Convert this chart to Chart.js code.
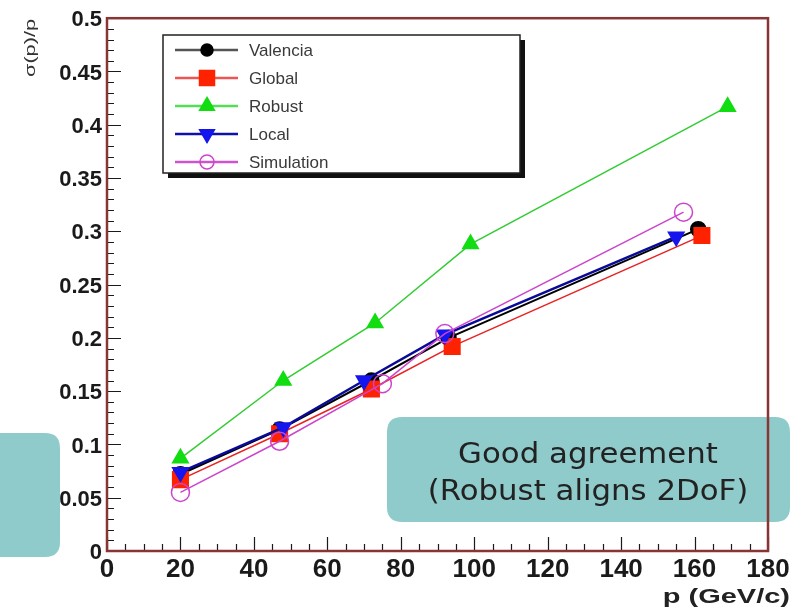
<!DOCTYPE html>
<html>
<head>
<meta charset="utf-8">
<script src="https://cdn.jsdelivr.net/npm/chart.js@4.4.0/dist/chart.umd.min.js"></script>
<style>
  html, body { margin: 0; padding: 0; background: #fff; }
  canvas { display: block; }
</style>
</head>
<body>
<canvas id="resChart" width="794" height="610"></canvas>
<script>
// Momentum resolution sigma(p)/p vs p for the alignment variants

const SERIES_NAMES = ["Valencia", "Global", "Robust", "Local", "Simulation"];

const VALENCIA_P     = [20, 47, 72, 93, 161];
const VALENCIA_SIGMA = [0.072, 0.114, 0.160, 0.200, 0.302];
const GLOBAL_P       = [20, 47, 72, 94, 162];
const GLOBAL_SIGMA   = [0.067, 0.110, 0.152, 0.192, 0.296];
const ROBUST_P       = [20, 48, 73, 99, 169];
const ROBUST_SIGMA   = [0.087, 0.160, 0.214, 0.288, 0.417];
const LOCAL_P        = [20, 48, 70, 92, 155];
const LOCAL_SIGMA    = [0.074, 0.116, 0.160, 0.203, 0.295];
const SIM_P          = [20, 47, 75, 92, 157];
const SIM_SIGMA      = [0.055, 0.103, 0.157, 0.204, 0.318];

const X_TITLE = "p (GeV/c)";
const Y_TITLE = "σ(p)/p";
const NOTE_LINES = ["Good agreement", "(Robust aligns 2DoF)"];

const seriesP = [VALENCIA_P, GLOBAL_P, ROBUST_P, LOCAL_P, SIM_P];
const seriesSigma = [VALENCIA_SIGMA, GLOBAL_SIGMA, ROBUST_SIGMA, LOCAL_SIGMA, SIM_SIGMA];

// marker / line look per series (order: lower = drawn on top)
const STYLES = [
    { line: "#000000", fill: "#000000", border: "#000000", point: "circle",   r: 7.5, rot: 0,   width: 2,   order: 4, legendLine: "#555555" },
    { line: "#e82222", fill: "#ff2200", border: "#ff2200", point: "rect",     r: 11,  rot: 0,   width: 1.5, order: 3, legendLine: "#ee5555" },
    { line: "#33cc33", fill: "#11dd11", border: "#11dd11", point: "triangle", r: 9,   rot: 0,   width: 1.5, order: 2, legendLine: "#55dd55" },
    { line: "#0a0a99", fill: "#1515ee", border: "#1515ee", point: "triangle", r: 9,   rot: 180, width: 2.5, order: 1, legendLine: "#1010aa" },
    { line: "#cc44cc", fill: "rgba(0,0,0,0)", border: "#cc44cc", point: "circle", r: 9, rot: 0, width: 1.5, order: 0, legendLine: "#cc55cc" }
];

function roundedRect(ctx, x, y, w, h, r) {
    ctx.beginPath();
    ctx.moveTo(x + r, y);
    ctx.lineTo(x + w - r, y);
    ctx.quadraticCurveTo(x + w, y, x + w, y + r);
    ctx.lineTo(x + w, y + h - r);
    ctx.quadraticCurveTo(x + w, y + h, x + w - r, y + h);
    ctx.lineTo(x + r, y + h);
    ctx.quadraticCurveTo(x, y + h, x, y + h - r);
    ctx.lineTo(x, y + r);
    ctx.quadraticCurveTo(x, y, x + r, y);
    ctx.closePath();
}

// teal note boxes sit underneath everything else
const noteBoxes = {
    id: "noteBoxes",
    beforeDraw(chart) {
        const ctx = chart.ctx;
        ctx.save();
        ctx.fillStyle = "#fff";
        ctx.fillRect(0, 0, chart.width, chart.height);
        ctx.fillStyle = "#8fcbcb";
        roundedRect(ctx, -20, 433, 80, 124, 15);
        ctx.fill();
        roundedRect(ctx, 387, 417, 403, 105, 15);
        ctx.fill();

        ctx.fillStyle = "#222";
        ctx.font = "28px 'DejaVu Sans'";
        ctx.textAlign = "center";
        ctx.textBaseline = "alphabetic";
        NOTE_LINES.forEach((txt, i) => {
            ctx.save();
            ctx.translate(588, 463 + i * 37);
            ctx.scale(1.1, 1);
            ctx.fillText(txt, 0, 0);
            ctx.restore();
        });
        ctx.restore();
    }
};

// ROOT-style frame with inward ticks
const frameTicks = {
    id: "frameTicks",
    beforeDatasetsDraw(chart) {
        const { ctx, chartArea: a, scales: { x, y } } = chart;
        ctx.save();
        ctx.strokeStyle = "#1a1a1a";
        ctx.lineWidth = 1.2;
        ctx.beginPath();
        for (let v = 0; v <= 180; v += 5) {
            const px = Math.round(x.getPixelForValue(v)) + 0.5;
            const len = v % 20 === 0 ? 14 : 7;
            ctx.moveTo(px, a.bottom);
            ctx.lineTo(px, a.bottom - len);
        }
        for (let k = 0; k <= 50; k++) {
            const py = Math.round(y.getPixelForValue(k / 100)) + 0.5;
            const len = k % 5 === 0 ? 14 : 7;
            ctx.moveTo(a.left, py);
            ctx.lineTo(a.left + len, py);
        }
        ctx.stroke();
        ctx.strokeStyle = "#8a3434";
        ctx.lineWidth = 2.5;
        ctx.strokeRect(a.left, a.top, a.right - a.left, a.bottom - a.top);
        ctx.restore();
    }
};

function drawMarker(ctx, s, cx, cy, r) {
    ctx.beginPath();
    if (s.point === "circle") {
        ctx.arc(cx, cy, r, 0, Math.PI * 2);
    } else if (s.point === "rect") {
        ctx.rect(cx - r, cy - r, 2 * r, 2 * r);
    } else {
        const dir = s.rot === 180 ? -1 : 1;
        ctx.moveTo(cx, cy - dir * r);
        ctx.lineTo(cx + r * 0.87, cy + dir * r * 0.5);
        ctx.lineTo(cx - r * 0.87, cy + dir * r * 0.5);
        ctx.closePath();
    }
    ctx.fillStyle = s.fill;
    ctx.fill();
    ctx.strokeStyle = s.border;
    ctx.lineWidth = 1.5;
    ctx.stroke();
}

// legend box with drop shadow, plus both axis titles
const legendAndTitles = {
    id: "legendAndTitles",
    afterDraw(chart) {
        const ctx = chart.ctx;
        const bx = 163, by = 35, bw = 357, bh = 138;
        ctx.save();
        ctx.fillStyle = "#111";
        ctx.fillRect(bx + 5, by + 5, bw, bh);
        ctx.fillStyle = "#fff";
        ctx.fillRect(bx, by, bw, bh);
        ctx.strokeStyle = "#222";
        ctx.lineWidth = 1.5;
        ctx.strokeRect(bx, by, bw, bh);

        const legendR = [6, 7.5, 8.5, 8.5, 7];
        SERIES_NAMES.forEach((name, i) => {
            const s = STYLES[i];
            const ry = 50 + i * 28;
            ctx.strokeStyle = s.legendLine;
            ctx.lineWidth = 2.5;
            ctx.beginPath();
            ctx.moveTo(175, ry);
            ctx.lineTo(238, ry);
            ctx.stroke();
            drawMarker(ctx, s, 207, ry, legendR[i]);
            ctx.fillStyle = "#3a3a3a";
            ctx.font = "17px 'Liberation Sans'";
            ctx.textAlign = "left";
            ctx.textBaseline = "middle";
            ctx.fillText(name, 249, ry + 1);
        });

        // y title, rotated, near the top
        ctx.save();
        ctx.translate(31, 48);
        ctx.rotate(-Math.PI / 2);
        ctx.scale(1.55, 1);
        ctx.fillStyle = "#333";
        ctx.font = "14px 'Liberation Sans'";
        ctx.textAlign = "center";
        ctx.textBaseline = "middle";
        ctx.fillText(Y_TITLE, 0, 0);
        ctx.restore();

        // x title, right aligned under the axis
        ctx.save();
        ctx.translate(790, 603);
        ctx.scale(1.45, 1);
        ctx.fillStyle = "#222";
        ctx.font = "bold 20px 'Liberation Sans'";
        ctx.textAlign = "right";
        ctx.textBaseline = "alphabetic";
        ctx.fillText(X_TITLE, 0, 0);
        ctx.restore();
        ctx.restore();
    }
};

new Chart(document.getElementById("resChart"), {
    type: "scatter",
    data: {
        datasets: SERIES_NAMES.map((name, i) => {
            const s = STYLES[i];
            return {
                label: name,
                data: seriesP[i].map((p, j) => ({ x: p, y: seriesSigma[i][j] })),
                showLine: true,
                tension: 0,
                borderColor: s.line,
                borderWidth: s.width,
                backgroundColor: s.fill,
                pointStyle: s.point,
                pointRadius: s.r,
                pointRotation: s.rot,
                pointBackgroundColor: s.fill,
                pointBorderColor: s.border,
                pointBorderWidth: 1.5,
                order: s.order,
                clip: false
            };
        })
    },
    options: {
        responsive: false,
        animation: false,
        layout: { padding: { top: 18, right: 26, left: 0, bottom: 0 } },
        plugins: {
            legend: { display: false },
            tooltip: { enabled: false }
        },
        scales: {
            x: {
                type: "linear",
                min: 0,
                max: 180,
                grid: { display: false, drawTicks: false },
                border: { display: false },
                ticks: {
                    stepSize: 20,
                    padding: 3,
                    color: "#1a1a1a",
                    font: { family: "'Liberation Sans'", size: 26, weight: "bold" },
                    maxRotation: 0
                },
                afterFit: (scale) => { scale.height = 59; }
            },
            y: {
                type: "linear",
                min: 0,
                max: 0.5,
                grid: { display: false, drawTicks: false },
                border: { display: false },
                ticks: {
                    stepSize: 0.05,
                    padding: 5,
                    labelOffset: 2,
                    color: "#1a1a1a",
                    font: { family: "'Liberation Sans'", size: 22, weight: "bold" },
                    callback: (v) => String(parseFloat(v.toFixed(2)))
                },
                afterFit: (scale) => { scale.width = 107; }
            }
        }
    },
    plugins: [noteBoxes, frameTicks, legendAndTitles]
});
</script>
</body>
</html>
